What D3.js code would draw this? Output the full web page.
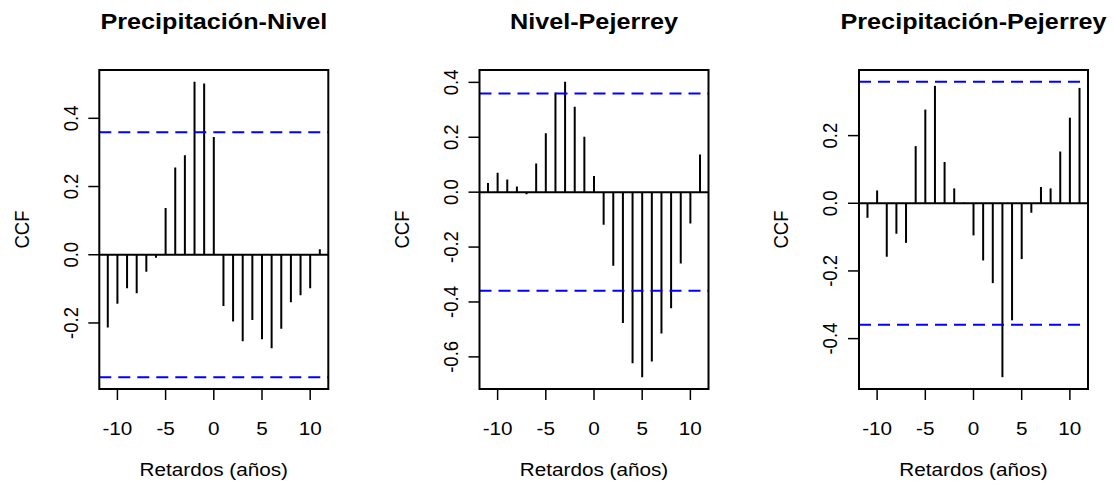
<!DOCTYPE html>
<html>
<head>
<meta charset="utf-8">
<script src="https://cdn.jsdelivr.net/npm/d3@7"></script>
<style>
  html, body { margin: 0; padding: 0; background: #fff; }
  svg text { font-family: "Liberation Sans", Arial, Helvetica, sans-serif; fill: #000; }
</style>
</head>
<body>
<svg id="chart" width="1115" height="487"></svg>
<script>
// Lags (years) shared by all three cross-correlation panels
const lags = [-11, -10, -9, -8, -7, -6, -5, -4, -3, -2, -1, 0, 1, 2, 3, 4, 5, 6, 7, 8, 9, 10, 11];

// Cross-correlation values per pair of series
const ccfPrecipNivel = [-0.213, -0.144, -0.098, -0.113, -0.050, -0.009, 0.137, 0.256, 0.292, 0.507, 0.502, 0.345,
  -0.150, -0.196, -0.254, -0.191, -0.248, -0.274, -0.217, -0.139, -0.119, -0.098, 0.016];
const ccfNivelPejerrey = [0.033, 0.071, 0.046, 0.021, -0.008, 0.104, 0.215, 0.363, 0.402, 0.311, 0.202, 0.059,
  -0.119, -0.268, -0.477, -0.623, -0.674, -0.617, -0.515, -0.423, -0.260, -0.114, 0.137];
const ccfPrecipPejerrey = [-0.043, 0.038, -0.158, -0.090, -0.117, 0.169, 0.277, 0.347, 0.122, 0.044, 0.002, -0.095,
  -0.169, -0.236, -0.514, -0.346, -0.165, -0.028, 0.048, 0.044, 0.153, 0.253, 0.341];

// Approximate 95% confidence bound (±2/sqrt(n))
const confBound = 0.359;

const panelTitles = ["Precipitación-Nivel", "Nivel-Pejerrey", "Precipitación-Pejerrey"];
const xTicks = [-10, -5, 0, 5, 10];
const yTicksP1 = [-0.2, 0.0, 0.2, 0.4];
const yTicksP2 = [-0.6, -0.4, -0.2, 0.0, 0.2, 0.4];
const yTicksP3 = [-0.4, -0.2, 0.0, 0.2];
const xLabel = "Retardos (años)";
const yLabel = "CCF";

const panels = [
  { title: panelTitles[0], values: ccfPrecipNivel, yTicks: yTicksP1 },
  { title: panelTitles[1], values: ccfNivelPejerrey, yTicks: yTicksP2 },
  { title: panelTitles[2], values: ccfPrecipPejerrey, yTicks: yTicksP3 }
];

// Layout
const boxLeft = [99.3, 479.5, 859];
const boxW = 229;
const boxTop = 70, boxBottom = 389;
const fontSize = 18.5, titleSize = 22.5;
const sx = 1.12;          // horizontal text stretch
const tickLen = 11;

// plain hyphen for negative numbers
const fmtY = v => d3.format(".1f")(v).replace("\u2212", "-");

const svg = d3.select("#chart");

function stretchedText(g, x, y, str, opts) {
  const t = g.append("text")
    .attr("transform", `translate(${x},${y}) scale(${sx},1)` + (opts.rotate ? " rotate(-90)" : ""))
    .attr("text-anchor", "middle")
    .style("font-size", opts.size + "px")
    .text(str);
  if (opts.bold) t.style("font-weight", "bold");
  return t;
}

panels.forEach((p, i) => {
  const x0 = boxLeft[i], x1 = x0 + boxW;
  const g = svg.append("g");

  // x scale: lag range padded by 4% each side
  const lagExt = d3.extent(lags);
  const lagPad = (lagExt[1] - lagExt[0]) * 0.04;
  const x = d3.scaleLinear().domain([lagExt[0] - lagPad, lagExt[1] + lagPad]).range([x0, x1]);

  // y scale: covers values and confidence bounds, padded by 4%
  const lo = Math.min(d3.min(p.values), -confBound);
  const hi = Math.max(d3.max(p.values), confBound);
  const pad = (hi - lo) * 0.04;
  const y = d3.scaleLinear().domain([lo - pad, hi + pad]).range([boxBottom, boxTop]);

  const clipId = "clip" + i;
  g.append("clipPath").attr("id", clipId)
    .append("rect").attr("x", x0).attr("y", boxTop).attr("width", boxW).attr("height", boxBottom - boxTop);

  const plot = g.append("g").attr("clip-path", `url(#${clipId})`);

  // zero line
  plot.append("line")
    .attr("x1", x0).attr("x2", x1)
    .attr("y1", y(0)).attr("y2", y(0))
    .attr("stroke", "#000").attr("stroke-width", 2);

  // correlation spikes
  plot.selectAll("line.spike")
    .data(lags.map((l, k) => ({ lag: l, v: p.values[k] })))
    .join("line")
    .attr("class", "spike")
    .attr("x1", d => x(d.lag)).attr("x2", d => x(d.lag))
    .attr("y1", y(0)).attr("y2", d => y(d.v))
    .attr("stroke", "#000").attr("stroke-width", 2);

  // confidence bounds
  [confBound, -confBound].forEach(c => {
    plot.append("line")
      .attr("x1", x0).attr("x2", x1)
      .attr("y1", y(c)).attr("y2", y(c))
      .attr("stroke", "#0000ff").attr("stroke-width", 2)
      .attr("stroke-dasharray", "12,7");
  });

  // frame
  g.append("rect")
    .attr("x", x0).attr("y", boxTop)
    .attr("width", boxW).attr("height", boxBottom - boxTop)
    .attr("fill", "none").attr("stroke", "#000").attr("stroke-width", 2);

  // x axis ticks and labels
  xTicks.forEach(t => {
    g.append("line")
      .attr("x1", x(t)).attr("x2", x(t))
      .attr("y1", boxBottom).attr("y2", boxBottom + tickLen)
      .attr("stroke", "#000").attr("stroke-width", 1.5);
    stretchedText(g, x(t), 435, String(t), { size: fontSize });
  });

  // y axis ticks and labels (rotated)
  p.yTicks.forEach(t => {
    g.append("line")
      .attr("x1", x0 - tickLen).attr("x2", x0)
      .attr("y1", y(t)).attr("y2", y(t))
      .attr("stroke", "#000").attr("stroke-width", 1.5);
    stretchedText(g, x0 - 21.7, y(t), fmtY(t), { size: fontSize, rotate: true });
  });

  // titles
  stretchedText(g, (x0 + x1) / 2, 29, p.title, { size: titleSize, bold: true });
  stretchedText(g, (x0 + x1) / 2, 476, xLabel, { size: fontSize });
  stretchedText(g, x0 - 70.7, (boxTop + boxBottom) / 2, yLabel, { size: fontSize, rotate: true });
});
</script>
</body>
</html>
